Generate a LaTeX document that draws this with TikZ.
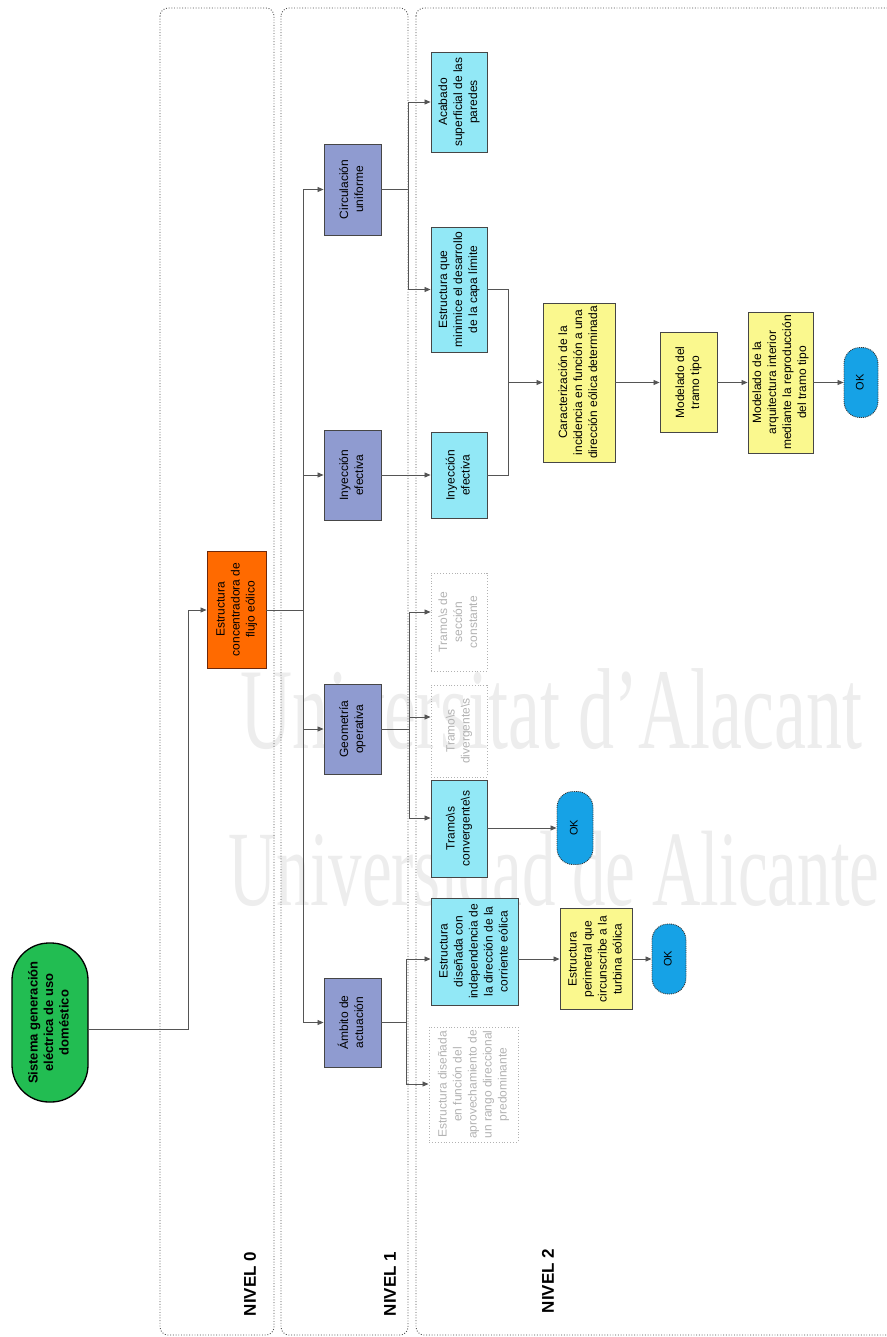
\documentclass[tikz,border=0pt]{standalone}
\usepackage{fontspec}
\setmainfont{Liberation Sans}
\newfontfamily\wmfont{Liberation Serif}
\usetikzlibrary{arrows.meta}

\definecolor{rootgreen}{RGB}{34,189,82}
\definecolor{orangebox}{RGB}{255,106,0}
\definecolor{orangeedge}{RGB}{110,40,10}
\definecolor{lavbox}{RGB}{143,155,208}
\definecolor{cyanbox}{RGB}{146,232,246}
\definecolor{yellowbox}{RGB}{250,248,142}
\definecolor{okblue}{RGB}{22,162,230}
\definecolor{boxedge}{RGB}{70,70,70}
\definecolor{wirecol}{RGB}{85,85,85}

% vertical (bottom-to-top) multi-line label
\newcommand\vtext[1]{\rotatebox{90}{\begin{tabular}{@{}c@{}}#1\end{tabular}}}

\tikzset{
  box/.style={draw=boxedge, line width=0.9pt, inner sep=0pt,
    font=\fontsize{12}{15}\selectfont},
  rootbox/.style={box, draw=black, line width=1.3pt, fill=rootgreen,
    rounded corners=37pt, font=\bfseries\fontsize{13}{15.5}\selectfont},
  mainbox/.style={box, draw=orangeedge, fill=orangebox},
  lvlone/.style={box, fill=lavbox},
  lvltwo/.style={box, fill=cyanbox},
  taskbox/.style={box, fill=yellowbox},
  ghost/.style={box, draw=gray!60, dotted, text=gray!60},
  okpill/.style={box, draw=black!80, densely dotted, fill=okblue,
    rounded corners=16pt, font=\fontsize{11}{13}\selectfont},
  frame/.style={draw=black!70, line width=0.9pt, dash pattern=on 0.9pt off 1.8pt,
    rounded corners=8pt},
  levellabel/.style={rotate=90, font=\bfseries\fontsize{17}{19}\selectfont},
  wire/.style={draw=wirecol, line width=0.8pt},
  arr/.style={wire, -{Triangle[length=6pt,width=5pt]}},
  watermark/.style={anchor=base west, text=black!7, inner sep=0pt, yscale=1.6},
}

\begin{document}
\begin{tikzpicture}[x=1pt,y=-1pt]
\useasboundingbox (0,0) rectangle (886,1337);

% faint background lettering
\node[watermark, font=\wmfont\fontsize{72}{72}\selectfont] (wma) at (240,748)
  {Universitat d’Alacant};
\node[watermark, font=\wmfont\fontsize{67}{67}\selectfont] (wmb) at (228,905)
  {Universidad de Alicante};

% level frames
\draw[frame] (160,8) rectangle (274,1335);
\draw[frame] (281,8) rectangle (408,1335);
\draw[frame] (416,8) rectangle (900,1335);
\node[levellabel] (nv0) at (250,1284) {NIVEL 0};
\node[levellabel] (nv1) at (390,1284) {NIVEL 1};
\node[levellabel] (nv2) at (548,1281) {NIVEL 2};

% level 0
\node[rootbox, minimum width=76pt, minimum height=159pt] (root) at (50,1022.5)
  {\vtext{Sistema generación\\eléctrica de uso\\doméstico}};
\node[mainbox, minimum width=59pt, minimum height=117pt] (main) at (236.5,609.5)
  {\vtext{Estructura\\concentradora de\\flujo eólico}};

% level 1
\node[lvlone, minimum width=57pt, minimum height=91pt] (circ) at (352.5,189.5)
  {\vtext{Circulación\\uniforme}};
\node[lvlone, minimum width=57pt, minimum height=90pt] (inya) at (352.5,475)
  {\vtext{Inyección\\efectiva}};
\node[lvlone, minimum width=57pt, minimum height=90pt] (geo) at (352.5,729)
  {\vtext{Geometría\\operativa}};
\node[lvlone, minimum width=57pt, minimum height=89pt] (amb) at (352.5,1022.5)
  {\vtext{Ámbito de\\actuación}};

% level 2
\node[lvltwo, minimum width=56pt, minimum height=100pt] (acab) at (459,102)
  {\vtext{Acabado\\superficial de las\\paredes}};
\node[lvltwo, minimum width=56pt, minimum height=125pt] (minim) at (459,289.5)
  {\vtext{Estructura que\\minimice el desarrollo\\de la capa límite}};
\node[lvltwo, minimum width=56pt, minimum height=86pt] (inyb) at (459,475)
  {\vtext{Inyección\\efectiva}};
\node[ghost, minimum width=56pt, minimum height=98pt] (cons) at (459,622)
  {\vtext{Tramo\textbackslash s de\\sección\\constante}};
\node[ghost, minimum width=56pt, minimum height=92pt] (div) at (459,731)
  {\vtext{Tramo\textbackslash s\\divergente\textbackslash s}};
\node[lvltwo, minimum width=56pt, minimum height=97pt] (conv) at (459,828.5)
  {\vtext{Tramo\textbackslash s\\convergente\textbackslash s}};
\node[lvltwo, minimum width=87pt, minimum height=107pt] (indep) at (474.5,951.5)
  {\vtext{Estructura\\diseñada con\\independencia de\\la dirección de la\\corriente eólica}};
\node[ghost, minimum width=89pt, minimum height=115pt] (func) at (473.5,1084.5)
  {\vtext{Estructura diseñada\\en función del\\aprovechamiento de\\un rango direccional\\predominante}};

\node[taskbox, minimum width=72pt, minimum height=159pt] (carac) at (579,382.5)
  {\vtext{Caracterización de la\\incidencia en función a una\\dirección eólica determinada}};
\node[taskbox, minimum width=57pt, minimum height=100pt] (model) at (688.5,382.5)
  {\vtext{Modelado del\\tramo tipo}};
\node[taskbox, minimum width=65pt, minimum height=141pt] (arq) at (780.5,382.5)
  {\vtext{Modelado de la\\arquitectura interior\\mediante la reproducción\\del tramo tipo}};
\node[okpill, minimum width=34pt, minimum height=70pt] (oka) at (861,382.5) {\vtext{OK}};

\node[okpill, minimum width=36pt, minimum height=73pt] (okb) at (575,828) {\vtext{OK}};

\node[taskbox, minimum width=72pt, minimum height=101pt] (perim) at (596,959)
  {\vtext{Estructura\\perimetral que\\circunscribe a la\\turbina eólica}};
\node[okpill, minimum width=34pt, minimum height=70pt] (okc) at (669,959) {\vtext{OK}};

% connectors: level 0
\draw[arr] (root.east |- 0,1029) -| (188,610) -- (main.west |- 0,610);
\draw[wire] (main.east |- 0,610) -- (303,610);
\draw[wire] (303,0 |- circ.west) -- (303,0 |- amb.west);
\foreach \n in {circ,inya,geo,amb}
  \draw[arr] (303,0 |- \n.west) -- (\n.west);

% connectors: circulación uniforme
\draw[wire] (circ.east) -- (408,0 |- circ.east);
\draw[wire] (408,0 |- acab.west) -- (408,0 |- minim.west);
\draw[arr] (408,0 |- acab.west) -- (acab.west);
\draw[arr] (408,0 |- minim.west) -- (minim.west);

% connectors: inyección efectiva
\draw[arr] (inya.east) -- (inyb.west);
\draw[wire] (minim.east) -| (508,0 |- inyb.east) -- (inyb.east);
\draw[arr] (508,0 |- carac.west) -- (carac.west);
\draw[arr] (carac.east) -- (model.west);
\draw[arr] (model.east) -- (arq.west);
\draw[arr] (arq.east) -- (oka.west);

% connectors: geometría operativa
\draw[wire] (geo.east) -- (409,0 |- geo.east);
\draw[wire] (409,612) -- (409,818);
\draw[arr] (409,612) -- (cons.west |- 0,612);
\draw[arr] (409,717) -- (div.west |- 0,717);
\draw[arr] (409,818) -- (conv.west |- 0,818);
\draw[arr] (conv.east |- okb.west) -- (okb.west);

% connectors: ámbito de actuación
\draw[wire] (amb.east) -- (406,0 |- amb.east);
\draw[wire] (406,959) -- (406,1084);
\draw[arr] (406,959) -- (indep.west |- 0,959);
\draw[arr] (406,1084) -- (func.west |- 0,1084);
\draw[arr] (indep.east |- perim.west) -- (perim.west);
\draw[arr] (perim.east) -- (okc.west);
\end{tikzpicture}
\end{document}
